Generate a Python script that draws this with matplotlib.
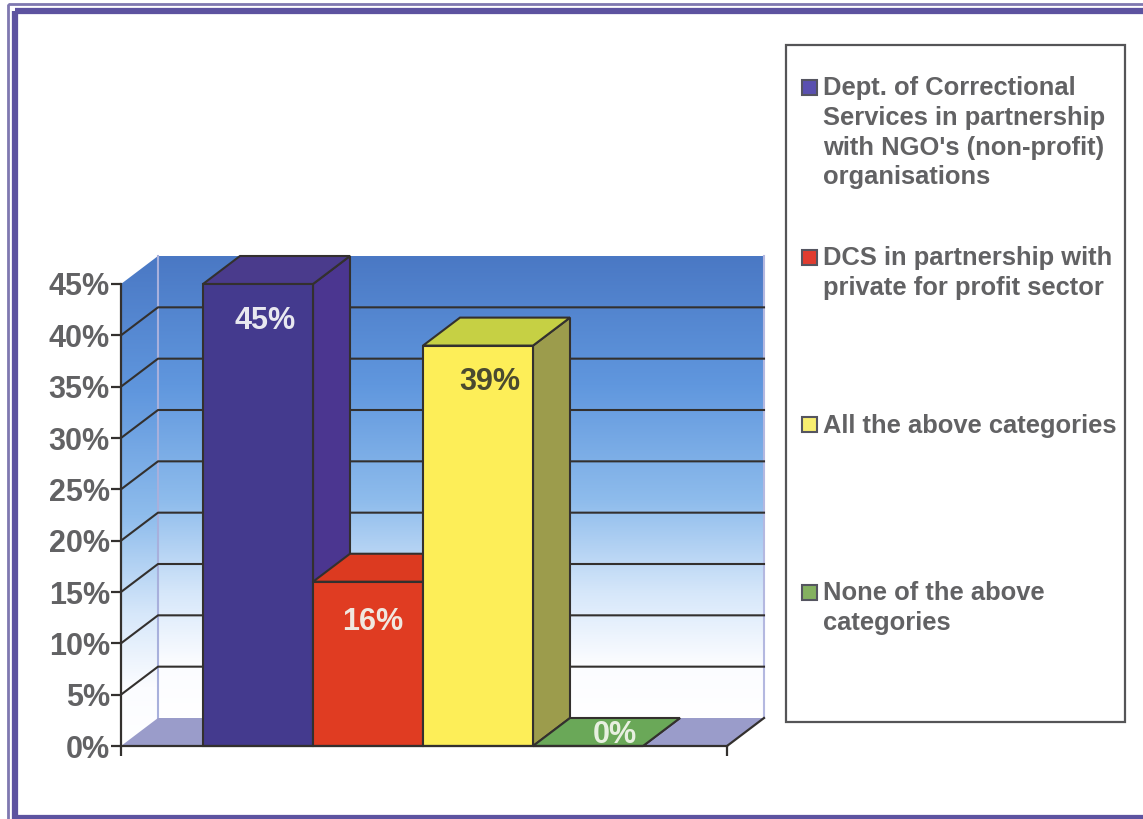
import numpy as np
import matplotlib
matplotlib.use("Agg")
import matplotlib.pyplot as plt
from matplotlib.patches import Polygon, Rectangle
from matplotlib.colors import LinearSegmentedColormap

categories = ["Dept. of Correctional\nServices in partnership\nwith NGO's (non-profit)\norganisations",
              "DCS in partnership with\nprivate for profit sector",
              "All the above categories",
              "None of the above\ncategories"]
values = [45, 16, 39, 0]
value_labels = ["45%", "16%", "39%", "0%"]
yticks = [0, 5, 10, 15, 20, 25, 30, 35, 40, 45]

front_colors = ["#443a8e", "#e03c22", "#fdee58", "#6aa858"]
top_colors = ["#4a3b8c", "#dc3a20", "#c6d044", "#6aa858"]
side_colors = ["#4b3690", "#b83020", "#9c9c4c", "#6aa858"]
swatch_colors = ["#5a50b0", "#e03c30", "#f8ee70", "#84b060"]
label_colors = ["#e8e8f0", "#f0e8e0", "#4a4a30", "#e8f0e0"]

W, H = 1143, 819
LINE = "#33302e"
GREY = "#626264"
FRAME = "#5d53a0"
plt.rcParams["font.family"] = ["Liberation Sans", "DejaVu Sans"]
plt.rcParams["font.weight"] = "bold"

fig = plt.figure(figsize=(W / 100, H / 100), dpi=100, facecolor="white")


def box(l, t, r, b):
    return [l / W, 1 - b / H, (r - l) / W, (b - t) / H]


# page frame, double rule
bg = fig.add_axes([0, 0, 1, 1], zorder=0)
bg.set_xlim(0, W)
bg.set_ylim(H, 0)
bg.axis("off")
bg.add_patch(Rectangle((15, 11), 1130, 807, fill=False, ec=FRAME, lw=4.5))
bg.add_patch(Rectangle((8, 4), 1160, 840, fill=False, ec="#7f78b0", lw=2))
bg.add_patch(Rectangle((786, 45), 339, 677, fc="white", ec="#555557", lw=1.6))

# one unit on x = one bar width, one unit on y = one percent
ax = fig.add_axes(box(121, 284, 727, 746), zorder=1)
bar_w = 110.0
ax.set_xlim((121 - 203) / bar_w, (727 - 203) / bar_w)
ax.set_ylim(0, 45)
x0, x1 = ax.get_xlim()
dx = 37 / bar_w
dy = 28 / (462 / 45)
top = 45

ax.set_facecolor("none")
for s in ["top", "right"]:
    ax.spines[s].set_visible(False)
for s in ["left", "bottom"]:
    ax.spines[s].set_color(LINE)
    ax.spines[s].set_linewidth(1.6)
    ax.spines[s].set_zorder(20)
ax.set_yticks(yticks)
ax.set_yticklabels(["%d%%" % v for v in yticks], fontsize=22, color=GREY)
ax.set_xticks([x0, x1])
ax.set_xticklabels([])
ax.tick_params(axis="both", length=7, width=1.6, color=LINE, pad=1)

# walls with vertical gradient
wall = LinearSegmentedColormap.from_list("wall", [(0, "#ffffff"), (0.12, "#fbfcff"), (0.27, "#d6e7fa"),
                                                  (0.47, "#8ebcec"), (0.72, "#6097de"), (1, "#4a78c4")])
grad = np.linspace(1, 0, 256).reshape(-1, 1)
back = Polygon([(x0 + dx, dy), (x1 + dx, dy), (x1 + dx, top + dy), (x0 + dx, top + dy)],
               transform=ax.transData, fc="none", ec="none", clip_on=False)
ax.add_patch(back)
im = ax.imshow(grad, extent=(x0 + dx, x1 + dx, dy, top + dy), cmap=wall, aspect="auto", zorder=1)
im.set_clip_box(fig.bbox)
im.set_clip_path(back)
side = Polygon([(x0, 0), (x0 + dx, dy), (x0 + dx, top + dy), (x0, top)],
               transform=ax.transData, fc="none", ec="none", clip_on=False)
ax.add_patch(side)
im2 = ax.imshow(grad, extent=(x0, x0 + dx, 0, top + dy), cmap=wall, aspect="auto", zorder=1)
im2.set_clip_box(fig.bbox)
im2.set_clip_path(side)
ax.set_xlim(x0, x1)
ax.set_ylim(0, 45)

# wall edges and floor
ax.plot([x0 + dx, x0 + dx], [dy, top + dy], color="#a8b0dc", lw=1.5, zorder=2, clip_on=False)
ax.plot([x1 + dx, x1 + dx], [dy, top + dy], color="#b4b8e0", lw=1.5, zorder=2, clip_on=False)
ax.add_patch(Polygon([(x0, 0), (x1, 0), (x1 + dx, dy), (x0 + dx, dy)], fc="#9a9cca", ec="none", zorder=2, clip_on=False))
ax.plot([x1, x1 + dx], [0, dy], color=LINE, lw=1.6, zorder=3, clip_on=False)

# gridlines on back and side walls
for v in yticks[1:-1]:
    ax.plot([x0, x0 + dx, x1 + dx], [v, v + dy, v + dy], color=LINE, lw=1.5, zorder=3, clip_on=False)

# bars, left to right so later ones cover the earlier side faces
for i, v in enumerate(values):
    z = 5 + i
    ax.add_patch(Polygon([(i + 1, 0), (i + 1 + dx, dy), (i + 1 + dx, v + dy), (i + 1, v)],
                         fc=side_colors[i], ec=LINE, lw=1.5, zorder=z, clip_on=False))
    ax.add_patch(Polygon([(i, v), (i + dx, v + dy), (i + 1 + dx, v + dy), (i + 1, v)],
                         fc=top_colors[i], ec=LINE, lw=1.5, zorder=z, clip_on=False))
    ax.add_patch(Rectangle((i, 0), 1, v, fc=front_colors[i], ec=LINE, lw=1.5, zorder=z, clip_on=False))

# value labels, placed by eye on each bar
label_dx = [0.56, 0.545, 0.61, 0.745]
label_dy = [-3.6, -3.9, -3.5, 1.1]
for i, v in enumerate(values):
    ax.text(i + label_dx[i], v + label_dy[i], value_labels[i], color=label_colors[i],
            fontsize=22, ha="center", va="center", zorder=15)

# legend
legend_y = [80, 250, 417, 585]
for name, color, ty in zip(categories, swatch_colors, legend_y):
    bg.add_patch(Rectangle((802, ty), 15, 15, fc=color, ec="#555560", lw=1.5, zorder=3))
    bg.text(823, ty - 3.5, name, color=GREY, fontsize=18.4, ha="left", va="top", linespacing=1.29, zorder=3)

fig.savefig("out.png", dpi=100)
